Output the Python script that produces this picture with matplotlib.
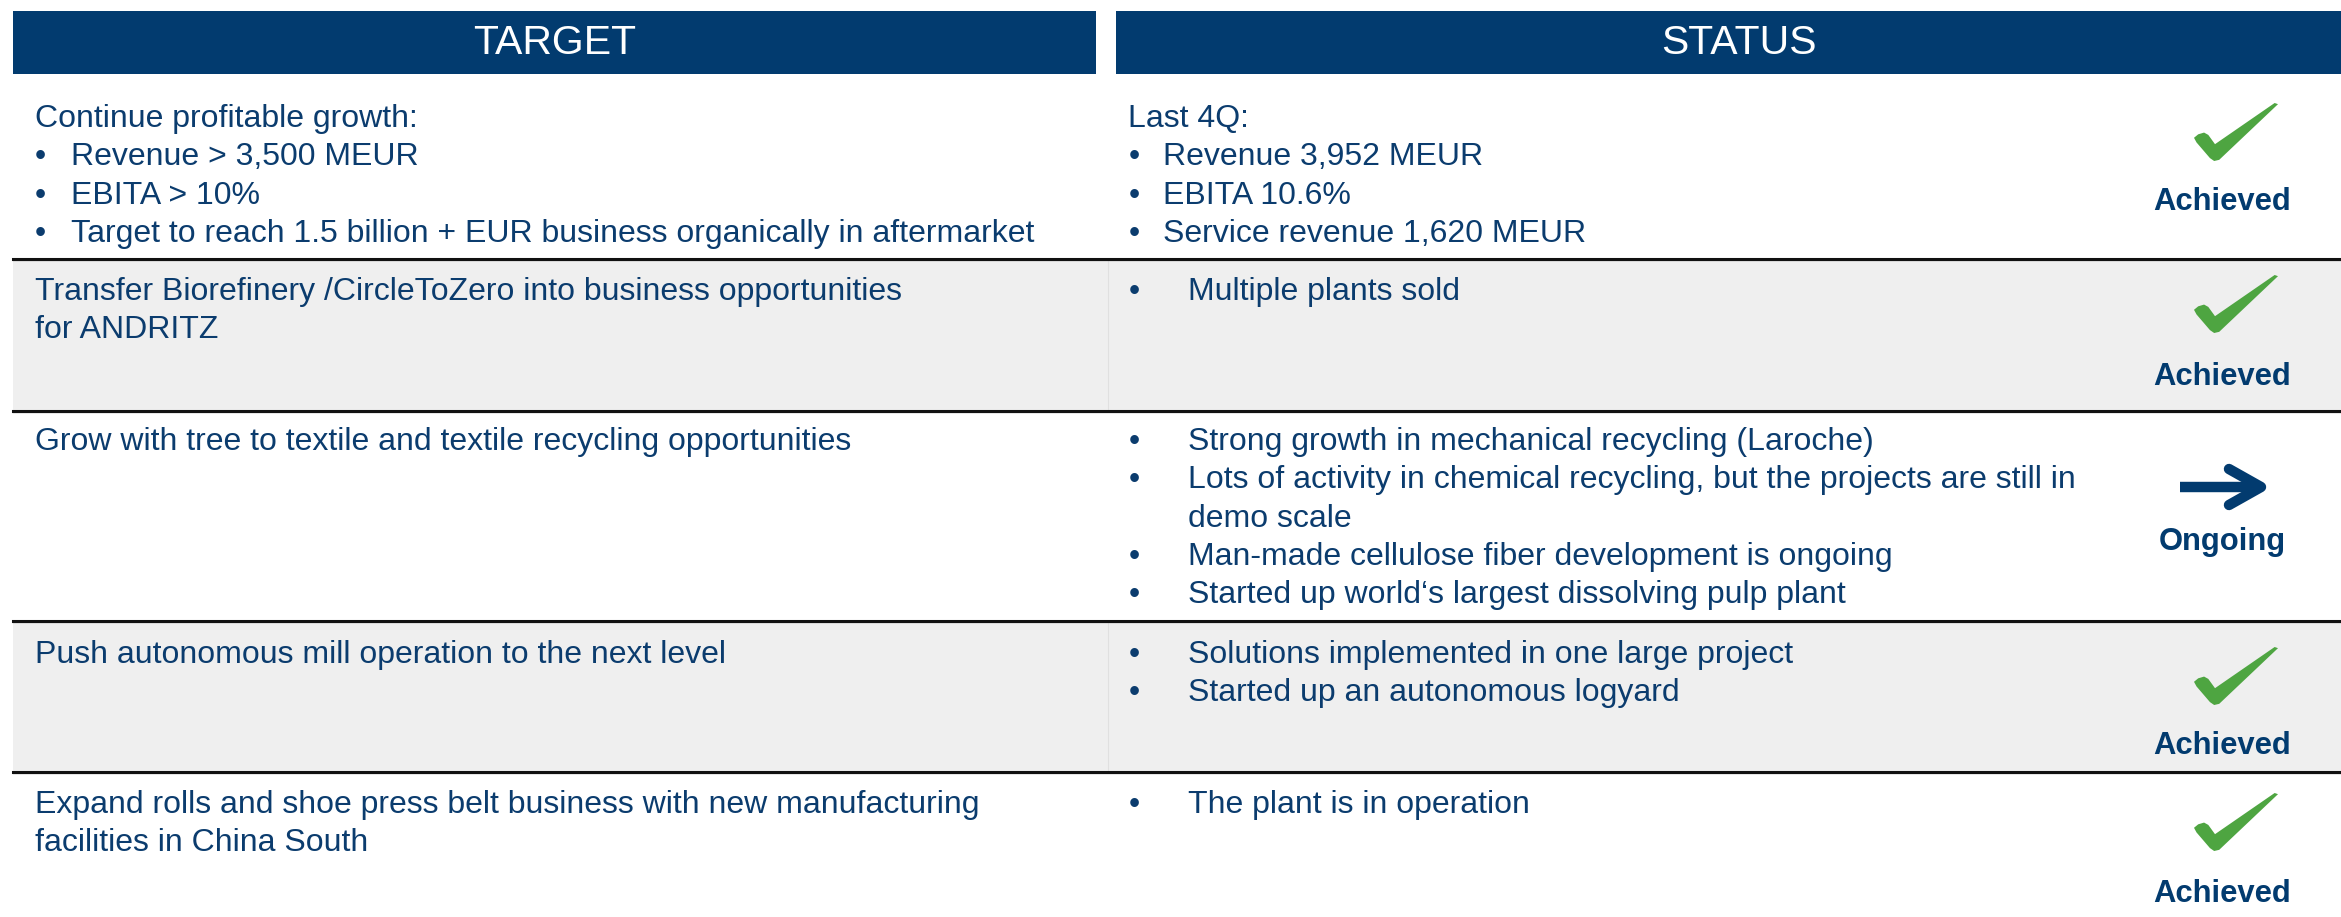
""" Target / status overview table drawn with matplotlib.
"""

import matplotlib
matplotlib.use('Agg')
import matplotlib.pyplot as plt
from matplotlib.patches import Rectangle, Polygon

# table content
header_labels = ['TARGET', 'STATUS']

target_heads = [
    'Continue profitable growth:',
    'Transfer Biorefinery /CircleToZero into business opportunities\nfor ANDRITZ',
    'Grow with tree to textile and textile recycling opportunities',
    'Push autonomous mill operation to the next level',
    'Expand rolls and shoe press belt business with new manufacturing\nfacilities in China South',
]
target_bullets = [
    ['Revenue > 3,500 MEUR',
     'EBITA > 10%',
     'Target to reach 1.5 billion + EUR business organically in aftermarket'],
    [], [], [], [],
]
status_heads = ['Last 4Q:', None, None, None, None]
status_bullets = [
    ['Revenue 3,952 MEUR',
     'EBITA 10.6%',
     'Service revenue 1,620 MEUR'],
    ['Multiple plants sold'],
    ['Strong growth in mechanical recycling (Laroche)',
     'Lots of activity in chemical recycling, but the projects are still in\ndemo scale',
     'Man-made cellulose fiber development is ongoing',
     'Started up world\u2018s largest dissolving pulp plant'],
    ['Solutions implemented in one large project',
     'Started up an autonomous logyard'],
    ['The plant is in operation'],
]
status_labels = ['Achieved', 'Achieved', 'Ongoing', 'Achieved', 'Achieved']

# layout (pixel coordinates, y downwards)
W, H = 2341, 917
NAVY = '#023b6f'
TEXT = '#0b3c6e'
GREEN = '#4ea541'
GRAY = '#efefef'
FONT = 'Liberation Sans'
FS = 23
LINE = 38.3

row_lines = [258.5, 410.5, 620.5, 772]
first_base = [127, 300, 450, 663, 813]
icon_tops = [103, 275, None, 647, 793]
label_base = [210, 385, 550, 754, 902]
gray_rows = [1, 3]

fig = plt.figure(figsize=(W / 100, H / 100), dpi=100)
ax = fig.add_axes([0, 0, 1, 1])
ax.set_xlim(0, W)
ax.set_ylim(H, 0)
ax.axis('off')

# headers
ax.add_patch(Rectangle((13, 11), 1083, 63, color=NAVY, lw=0))
ax.add_patch(Rectangle((1116, 11), W - 1116, 63, color=NAVY, lw=0))
for label, cx in zip(header_labels, [555, 1739]):
    ax.text(cx, 43, label, color='white', fontsize=29.5, family=FONT,
            ha='center', va='center')

# row backgrounds and separators
bounds = row_lines + [H]
for idx in gray_rows:
    top = row_lines[idx - 1]
    ax.add_patch(Rectangle((13, top), W - 13, bounds[idx] - top,
                           color=GRAY, lw=0))
    ax.plot([1108, 1108], [top + 2, bounds[idx] - 2], color='#e0e0e0', lw=0.8)
for y in row_lines:
    ax.plot([13, W], [y + 1.2, y + 1.2], color='#9a9a9a', lw=1.0)
    ax.plot([13, W], [y, y], color='#111111', lw=2.2)


def put(x, y, s):
    ax.text(x, y, s, color=TEXT, fontsize=FS, family=FONT, va='baseline')


def bullet(x, y):
    ax.text(x, y, '\u2022', color=TEXT, fontsize=FS, family=FONT,
            ha='center', va='baseline')


for row in range(len(target_heads)):
    # target column
    y = first_base[row]
    for part in target_heads[row].split('\n'):
        put(35, y, part)
        y += LINE
    for item in target_bullets[row]:
        bullet(40, y)
        put(71, y, item)
        y += LINE

    # status column
    y = first_base[row]
    text_x = 1188
    if status_heads[row]:
        put(1128, y, status_heads[row])
        y += LINE
        text_x = 1163
    for item in status_bullets[row]:
        bullet(1134, y)
        for part in item.split('\n'):
            put(text_x, y, part)
            y += LINE

    # status icon
    if icon_tops[row] is not None:
        x0, y0, w, h = 2194, icon_tops[row], 84, 58
        shape = [(0.0, 0.6), (0.05, 0.54), (0.12, 0.51), (0.17, 0.55),
                 (0.25, 0.71), (0.96, 0.0), (1.0, 0.02), (0.30, 0.98),
                 (0.24, 1.0), (0.19, 0.95), (0.03, 0.68)]
        pts = [(x0 + px * w, y0 + py * h) for px, py in shape]
        ax.add_patch(Polygon(pts, closed=True, color=GREEN, lw=0))
    else:
        ax.plot([2180, 2256], [487, 487], color=NAVY, lw=7.5,
                solid_capstyle='butt')
        ax.plot([2229, 2261, 2229], [469, 487, 505], color=NAVY, lw=7.5,
                solid_capstyle='round', solid_joinstyle='round')
    ax.text(2222, label_base[row], status_labels[row], color=NAVY,
            fontsize=22.3, family=FONT, fontweight='bold',
            ha='center', va='baseline')

fig.savefig('out.png', dpi=100, facecolor='white')
